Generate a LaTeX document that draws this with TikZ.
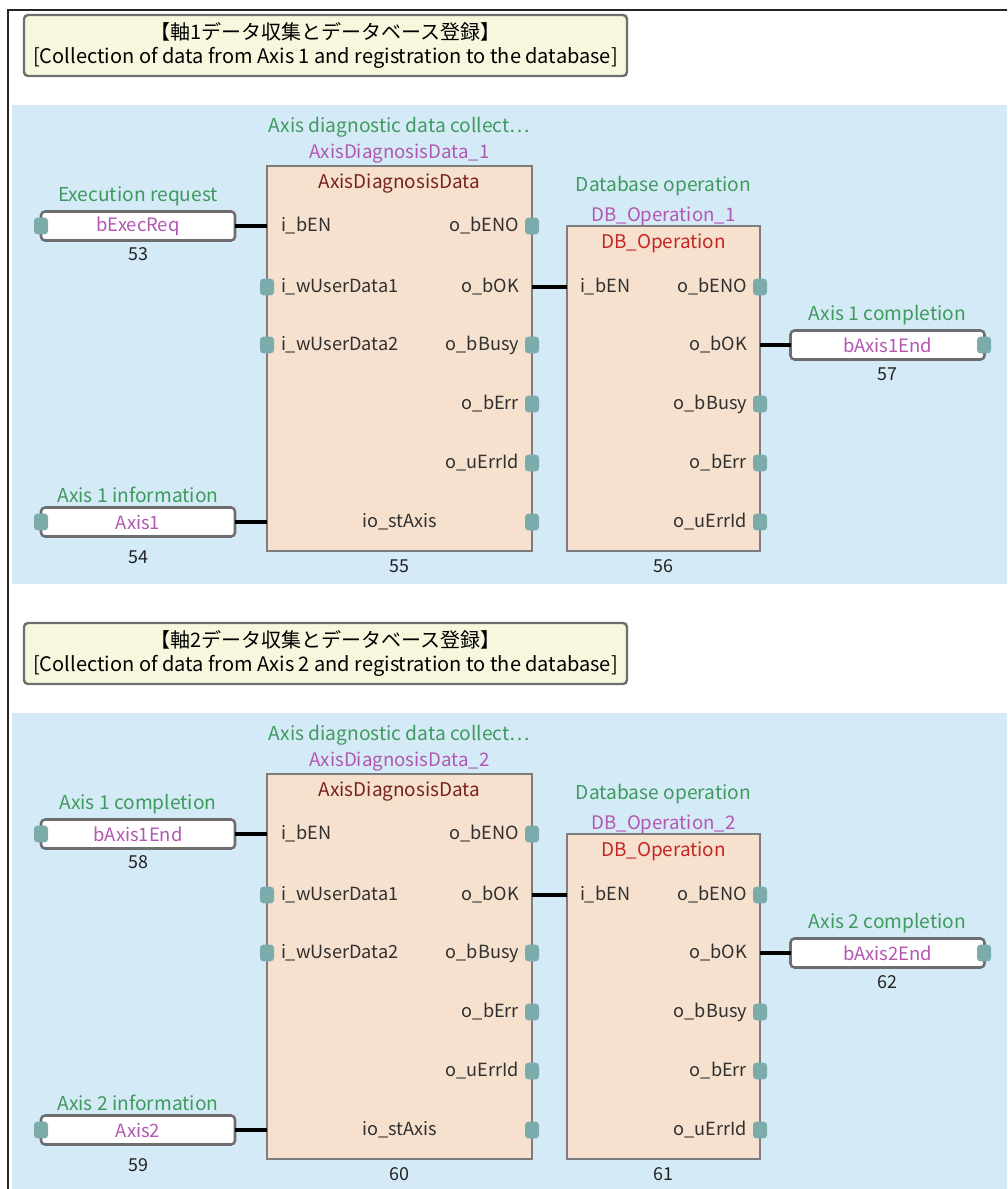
\documentclass[tikz,border=0pt]{standalone}
\usepackage{fontspec}
\setmainfont{Noto Sans CJK JP}
\usetikzlibrary{calc}

\definecolor{bandblue}{HTML}{D5EAF7}
\definecolor{notefill}{HTML}{F7F7DD}
\definecolor{edgegray}{HTML}{6E6E6E}
\definecolor{fbfill}{HTML}{F5E1CE}
\definecolor{stubcol}{HTML}{7BABAA}
\definecolor{cmtgreen}{HTML}{3F9A5E}
\definecolor{instpurple}{HTML}{B257B2}
\definecolor{titlered}{HTML}{7A2020}
\definecolor{dbred}{HTML}{C42626}
\definecolor{pintext}{HTML}{303030}
\definecolor{numdark}{HTML}{222222}

\tikzset{
  every node/.style={font=\fontsize{13.6}{15}\selectfont, inner sep=0pt, outer sep=0pt},
  note/.style={draw=edgegray, line width=1.8pt, fill=notefill, rounded corners=3pt,
    align=center, font=\fontsize{15}{18.5}\selectfont},
  fbbox/.style={draw=edgegray!90, line width=1.9pt, fill=fbfill},
  varbox/.style={draw=edgegray, line width=1.9pt, fill=white, rounded corners=3pt,
    minimum width=194*0.75pt, minimum height=29*0.75pt, text=instpurple,
    font=\fontsize{13.8}{15}\selectfont},
  stub/.style={fill=stubcol, rounded corners=2.5pt, minimum width=10.5pt, minimum height=12.5pt},
  wire/.style={line width=2.9pt, black},
  cmt/.style={text=cmtgreen, font=\fontsize{14.4}{16}\selectfont},
  inst/.style={text=instpurple, font=\fontsize{14}{16}\selectfont},
  fbtitle/.style={font=\fontsize{14.2}{16}\selectfont},
  num/.style={text=numdark, font=\fontsize{13.4}{15}\selectfont},
  pinl/.style={text=pintext},
}

% One rung: #1 axis number, #2 vertical offset (px), #3 enable comment,
% #4 enable variable, #5 first element number
\newcommand\rung[5]{%
\begin{scope}[shift={(0,#2)}]
  % rung background
  \fill[bandblue] (12,105) rectangle (1007,584);
  % rung comment
  \node[note, anchor=north west, minimum width=603*0.75pt, minimum height=61*0.75pt]
    (note#1) at (24,15)
    {【軸#1データ収集とデータベース登録】\\{[}Collection of data from Axis #1 and registration to the database{]}};

  % function block: AxisDiagnosisData
  \node[fbbox, anchor=north west, minimum width=265*0.75pt, minimum height=385*0.75pt]
    (fa#1) at (267,166) {};
  \node[cmt] at (399.5,127) {Axis diagnostic data collect⋯};
  \node[inst] at (399.5,154) {AxisDiagnosisData\_#1};
  \node[fbtitle, text=titlered] at (399.5,184) {AxisDiagnosisData};
  \node[pinl, anchor=west] at (281,226) {i\_bEN};
  \node[pinl, anchor=west] at (281,287) {i\_wUserData1};
  \node[pinl, anchor=west] at (281,345) {i\_wUserData2};
  \node[pinl] at (399.5,522) {io\_stAxis};
  \node[pinl, anchor=east] at (519,226) {o\_bENO};
  \node[pinl, anchor=east] at (519,287) {o\_bOK};
  \node[pinl, anchor=east] at (519,345) {o\_bBusy};
  \node[pinl, anchor=east] at (519,404) {o\_bErr};
  \node[pinl, anchor=east] at (519,463) {o\_uErrId};
  \node[stub] (fa#1-i2) at (267,287) {};
  \node[stub] (fa#1-i3) at (267,345) {};
  \node[stub] (fa#1-o1) at (532,226) {};
  \node[stub] (fa#1-o3) at (532,345) {};
  \node[stub] (fa#1-o4) at (532,404) {};
  \node[stub] (fa#1-o5) at (532,463) {};
  \node[stub] (fa#1-o6) at (532,522) {};
  \coordinate (fa#1-en)  at (267,226);
  \coordinate (fa#1-ax)  at (267,522);
  \coordinate (fa#1-ok)  at (532,287);
  \node[num] at (399.5,566) {\the\numexpr#5+2\relax};

  % function block: DB_Operation
  \node[fbbox, anchor=north west, minimum width=193*0.75pt, minimum height=325*0.75pt]
    (fb#1) at (567,226) {};
  \node[cmt] at (663.5,186) {Database operation};
  \node[inst] at (663.5,216) {DB\_Operation\_#1};
  \node[fbtitle, text=dbred] at (663.5,243) {DB\_Operation};
  \node[pinl, anchor=west] at (580,287) {i\_bEN};
  \node[pinl, anchor=east] at (747,287) {o\_bENO};
  \node[pinl, anchor=east] at (747,345) {o\_bOK};
  \node[pinl, anchor=east] at (747,404) {o\_bBusy};
  \node[pinl, anchor=east] at (747,463) {o\_bErr};
  \node[pinl, anchor=east] at (747,522) {o\_uErrId};
  \node[stub] (fb#1-o1) at (760,287) {};
  \node[stub] (fb#1-o3) at (760,404) {};
  \node[stub] (fb#1-o4) at (760,463) {};
  \node[stub] (fb#1-o5) at (760,522) {};
  \coordinate (fb#1-en) at (567,287);
  \coordinate (fb#1-ok) at (760,345);
  \node[num] at (663.5,566) {\the\numexpr#5+3\relax};

  % input variables
  \node[varbox] (ven#1) at (138,226) {#4};
  \node[cmt] at (138,196) {#3};
  \node[num] at (138,254) {#5};
  \node[stub] (ven#1-p) at (41,226) {};

  \node[varbox] (vax#1) at (138,522) {Axis#1};
  \node[cmt] at (138,495) {Axis #1 information};
  \node[num] at (138,557) {\the\numexpr#5+1\relax};
  \node[stub] (vax#1-p) at (41,522) {};

  % output variable
  \node[varbox] (vout#1) at (887.5,345) {bAxis#1End};
  \node[cmt] at (887.5,315) {Axis #1 completion};
  \node[num] at (887.5,374) {\the\numexpr#5+4\relax};
  \node[stub] (vout#1-p) at (984,345) {};

  % connections
  \draw[wire] (ven#1.east) -- (fa#1-en);
  \draw[wire] (vax#1.east) -- (fa#1-ax);
  \draw[wire] (fa#1-ok) -- (fb#1-en);
  \draw[wire] (fb#1-ok) -- (vout#1.west);
\end{scope}}

\begin{document}
\begin{tikzpicture}[x=0.75pt, y=-0.75pt]
  \useasboundingbox (0,0) rectangle (1007,1189);
  \fill[white] (0,0) rectangle (1007,1189);
  \begin{scope}
    \clip (0,0) rectangle (1007,1189);
    \rung{1}{0}{Execution request}{bExecReq}{53}
    \rung{2}{608}{Axis 1 completion}{bAxis1End}{58}
    % editor frame
    \draw[line width=1.6pt, black!85] (1010,10) -- (8,10) -- (8,1195);
  \end{scope}
\end{tikzpicture}
\end{document}
